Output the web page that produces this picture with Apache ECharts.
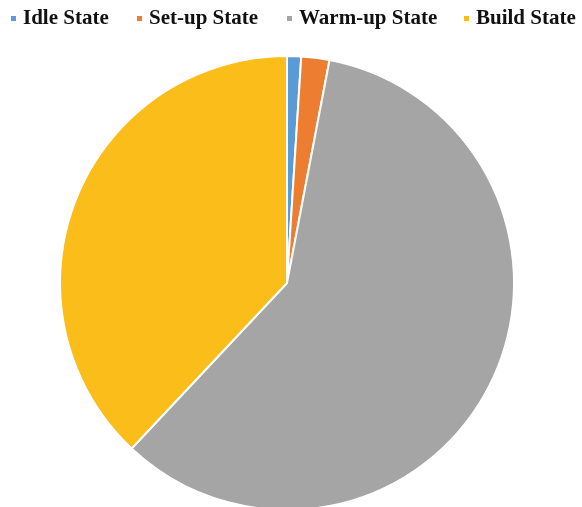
<!DOCTYPE html>
<html>
<head>
<meta charset="utf-8">
<script src="https://cdn.jsdelivr.net/npm/echarts@6/dist/echarts.min.js"></script>
<style>
  html, body { margin: 0; padding: 0; background: #ffffff; }
  #chart { width: 582px; height: 507px; }
</style>
</head>
<body>
<div id="chart"></div>
<script>
// Share of time spent in each machine state (%)
const states = ['Idle State', 'Set-up State', 'Warm-up State', 'Build State'];
const shares = [1, 2, 59, 38];
const colors = ['#5B9BD5', '#ED7D31', '#A5A5A5', '#FABD1A'];
const legendLeft = [9, 135, 285, 462];

const chart = echarts.init(document.getElementById('chart'));

// one legend box per state so each entry sits at its own x position
const legends = states.map((name, i) => ({
  data: [name],
  left: legendLeft[i],
  top: 8,
  icon: 'rect',
  itemWidth: 7,
  itemHeight: 7,
  padding: 0,
  selectedMode: false,
  textStyle: {
    fontFamily: '"Liberation Serif", "Times New Roman", serif',
    fontWeight: 'bold',
    fontSize: 21,
    color: '#111111',
    padding: [0, 0, 0, 1]
  }
}));

chart.setOption({
  animation: false,
  backgroundColor: '#ffffff',
  color: colors,
  legend: legends,
  series: [{
    type: 'pie',
    center: [287, 283],
    radius: 227,
    startAngle: 90,
    clockwise: true,
    label: { show: false },
    labelLine: { show: false },
    emphasis: { disabled: true },
    itemStyle: { borderColor: '#ffffff', borderWidth: 2 },
    data: states.map((name, i) => ({ name, value: shares[i] }))
  }]
});
</script>
</body>
</html>
